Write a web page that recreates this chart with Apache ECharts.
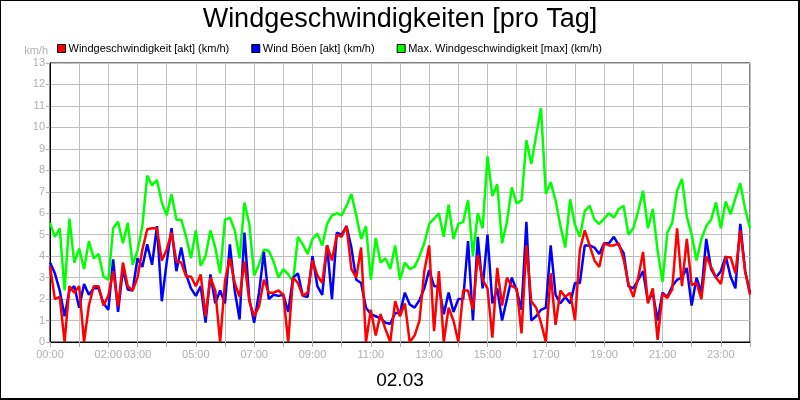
<!DOCTYPE html>
<html>
<head>
<meta charset="utf-8">
<script src="https://cdn.jsdelivr.net/npm/echarts@6/dist/echarts.min.js"></script>
<style>
    html, body { margin: 0; padding: 0; background: #fff; }
    #wrap { position: relative; width: 800px; height: 400px; }
    #chart { width: 800px; height: 400px; }
    #frame {
        position: absolute; left: 0; top: 0; width: 800px; height: 400px;
        box-sizing: border-box; border: 1px solid #000;
        border-right-width: 2px; border-bottom-width: 2px; pointer-events: none;
    }
</style>
</head>
<body>
<div id="wrap">
    <div id="chart"></div>
    <div id="frame"></div>
</div>
<script>
    // 10-Minuten-Werte, 00:00 bis 24:00
    var shownLabels = ['00:00', '02:00', '03:00', '05:00', '07:00', '09:00', '11:00',
        '13:00', '15:00', '17:00', '19:00', '21:00', '23:00'];

    var windAkt = [
        3.55, 2.0, 2.1, 0.0, 2.6, 2.3, 2.6, 0.0, 1.7, 2.6, 2.6, 1.7,
        2.15, 3.3, 1.65, 3.7, 2.6, 2.4, 3.0, 4.3, 5.25, 5.3, 5.3, 3.8,
        4.3, 5.1, 3.75, 3.7, 3.05, 3.05, 2.6, 3.15, 1.2, 3.0, 2.4, 0.0,
        2.85, 3.9, 2.75, 2.1, 3.75, 1.9, 1.2, 1.65, 2.9, 2.3, 2.3, 2.4,
        2.2, 0.0, 3.0, 2.75, 2.15, 2.3, 3.8, 3.1, 2.75, 4.5, 3.8, 5.0,
        4.9, 5.4, 3.4, 3.0, 4.4, 0.0, 1.5, 0.3, 1.3, 0.6, 0.0, 1.9,
        1.2, 1.8, 0.0, 0.3, 1.0, 3.3, 4.5, 0.5, 3.3, 0.0, 1.6, 1.0,
        0.0, 2.4, 2.4, 1.5, 4.05, 2.9, 2.5, 0.2, 3.45, 1.7, 3.0, 2.6,
        2.5, 0.4, 4.5, 1.9, 1.6, 0.9, 0.0, 3.2, 0.8, 2.4, 2.1, 2.3,
        1.0, 4.3, 5.2, 4.5, 3.8, 3.5, 4.6, 4.5, 4.5, 4.6, 3.85, 2.7,
        2.1, 3.0, 4.2, 1.8, 2.5, 0.1, 2.25, 2.05, 2.45, 5.3, 2.6, 4.8,
        2.65, 2.75, 2.0, 4.0, 3.5, 3.0, 2.7, 3.95, 3.95, 3.2, 5.2, 3.3,
        2.2
    ];

    var windBoeen = [
        3.7, 3.2, 2.4, 1.2, 2.4, 2.6, 1.6, 2.7, 2.2, 2.5, 2.5, 1.8,
        1.5, 3.85, 1.4, 3.4, 2.45, 2.4, 3.9, 3.5, 4.55, 3.6, 5.4, 1.9,
        3.7, 5.3, 3.3, 4.4, 3.15, 2.5, 2.15, 2.6, 0.9, 3.15, 1.8, 2.4,
        1.8, 4.55, 2.4, 1.05, 5.1, 2.0, 0.9, 2.3, 4.2, 2.0, 2.2, 2.15,
        2.2, 1.4, 3.0, 3.2, 2.15, 2.1, 4.0, 2.6, 2.2, 4.5, 2.0, 5.1,
        5.0, 5.4, 4.4, 2.9, 2.75, 1.6, 1.3, 1.2, 1.1, 0.9, 0.85, 1.35,
        1.35, 2.3, 1.75, 1.6, 1.95, 2.5, 3.35, 2.6, 2.6, 1.3, 2.3, 1.4,
        2.0, 2.0, 4.7, 1.0, 4.9, 2.5, 5.0, 1.8, 2.5, 1.0, 2.0, 3.0,
        2.4, 1.5, 5.6, 1.0, 1.2, 1.5, 1.6, 4.5, 2.2, 1.8, 2.1, 1.8,
        2.75, 2.75, 4.5, 4.5, 4.4, 4.1, 4.6, 4.6, 4.9, 4.5, 4.15, 2.6,
        2.5, 2.9, 3.3, 1.9, 2.3, 1.0, 2.3, 2.1, 2.6, 2.9, 3.0, 3.45,
        1.7, 3.0, 2.3, 4.8, 3.4, 3.0, 3.3, 4.0, 3.05, 2.5, 5.5, 3.3,
        2.3
    ];

    var windMax = [
        5.55, 4.9, 5.3, 2.4, 5.75, 3.7, 4.35, 3.4, 4.7, 3.9, 4.1, 3.05,
        2.9, 5.3, 5.6, 4.6, 5.55, 3.6, 4.25, 5.4, 7.75, 7.3, 7.55, 6.5,
        5.9, 6.9, 5.7, 5.7, 4.9, 3.9, 5.2, 3.55, 4.0, 5.2, 4.4, 3.2,
        5.7, 5.8, 5.2, 3.9, 6.5, 5.5, 3.1, 3.6, 4.3, 4.25, 3.75, 3.0,
        3.4, 3.15, 2.8, 4.9, 4.55, 4.1, 4.8, 5.05, 4.5, 5.5, 5.9, 6.0,
        5.9, 6.35, 6.9, 5.9, 4.8, 5.4, 2.9, 4.85, 3.7, 3.9, 3.4, 4.5,
        2.9, 3.7, 3.4, 3.5, 4.0, 4.6, 5.5, 5.75, 6.0, 4.9, 6.4, 4.8,
        5.5, 5.6, 6.6, 4.0, 6.0, 5.3, 8.65, 6.8, 7.35, 4.6, 5.6, 7.2,
        6.45, 6.6, 9.4, 8.3, 9.6, 10.9, 6.9, 7.45, 6.6, 5.4, 4.4, 6.65,
        5.45, 4.9, 6.1, 6.35, 5.7, 5.5, 5.75, 6.0, 5.8, 6.2, 6.35, 5.0,
        5.3, 6.1, 7.05, 5.3, 6.2, 4.25, 2.8, 5.1, 5.55, 7.05, 7.6, 5.85,
        5.0, 3.8, 4.8, 5.4, 5.7, 6.5, 5.3, 6.55, 5.95, 6.7, 7.4, 6.2,
        5.3
    ];

    // Zeitachse (alle 10 Minuten)
    var times = [];
    for (var i = 0; i < windMax.length; i++) {
        var h = Math.floor(i / 6) % 24, m = (i % 6) * 10;
        times.push((h < 10 ? '0' : '') + h + ':' + (m < 10 ? '0' : '') + m);
    }

    var font = "'Liberation Sans', Arial, sans-serif";
    var grey = '#b0b0b0';

    var myChart = echarts.init(document.getElementById('chart'));
    var option = {
        animation: false,
        backgroundColor: '#fff',
        textStyle: {fontFamily: font},
        title: [
            {
                text: 'Windgeschwindigkeiten [pro Tag]',
                left: 'center',
                top: 1,
                textStyle: {fontSize: 27, fontWeight: 'normal', color: '#000', fontFamily: font}
            },
            {
                text: '02.03',
                left: 'center',
                top: 366,
                textStyle: {fontSize: 19, fontWeight: 'normal', color: '#000', fontFamily: font}
            }
        ],
        legend: {
            data: ['Windgeschwindigkeit [akt] (km/h)', 'Wind Böen [akt] (km/h)', 'Max. Windgeschwindigkeit [max] (km/h)'],
            left: 52,
            top: 38,
            icon: 'rect',
            itemWidth: 8,
            itemHeight: 8,
            itemGap: 22,
            itemStyle: {borderColor: '#000', borderWidth: 1},
            textStyle: {fontSize: 11, color: '#000', fontFamily: font, padding: [0, 0, 0, -2]}
        },
        grid: {
            left: 50,
            right: 50,
            top: 63,
            bottom: 58,
            show: true,
            borderColor: '#000',
            borderWidth: 1
        },
        xAxis: {
            type: 'category',
            data: times,
            boundaryGap: false,
            axisLine: {lineStyle: {color: '#000', width: 1}},
            axisTick: {
                show: true,
                length: 5,
                interval: function (idx) { return idx % 6 === 0; },
                lineStyle: {color: grey}
            },
            axisLabel: {
                interval: function (idx, val) { return idx < times.length - 1 && shownLabels.indexOf(val) >= 0; },
                color: grey,
                fontSize: 11,
                margin: 7
            },
            splitLine: {
                show: true,
                interval: function (idx) { return idx % 6 === 0; },
                lineStyle: {color: '#c0c0c0', width: 1}
            }
        },
        yAxis: {
            type: 'value',
            min: 0,
            max: 13,
            interval: 1,
            name: 'km/h',
            nameLocation: 'end',
            nameGap: 7,
            nameTextStyle: {color: grey, fontSize: 11, align: 'right', padding: [0, 2, 0, 0]},
            axisLine: {show: true, lineStyle: {color: '#000', width: 1}},
            axisTick: {show: true, length: 4, lineStyle: {color: grey}},
            axisLabel: {color: grey, fontSize: 11, margin: 5},
            splitLine: {lineStyle: {color: '#c0c0c0', width: 1}}
        },
        series: [
            {
                name: 'Max. Windgeschwindigkeit [max] (km/h)',
                type: 'line',
                data: windMax,
                showSymbol: false,
                color: '#00ff00',
                lineStyle: {width: 2.5, color: '#00ff00'}
            },
            {
                name: 'Wind Böen [akt] (km/h)',
                type: 'line',
                data: windBoeen,
                showSymbol: false,
                color: '#0000ff',
                lineStyle: {width: 2.5, color: '#0000ff'}
            },
            {
                name: 'Windgeschwindigkeit [akt] (km/h)',
                type: 'line',
                data: windAkt,
                showSymbol: false,
                color: '#ff0000',
                lineStyle: {width: 2.5, color: '#ff0000'}
            }
        ]
    };
    myChart.setOption(option);
</script>
</body>
</html>
